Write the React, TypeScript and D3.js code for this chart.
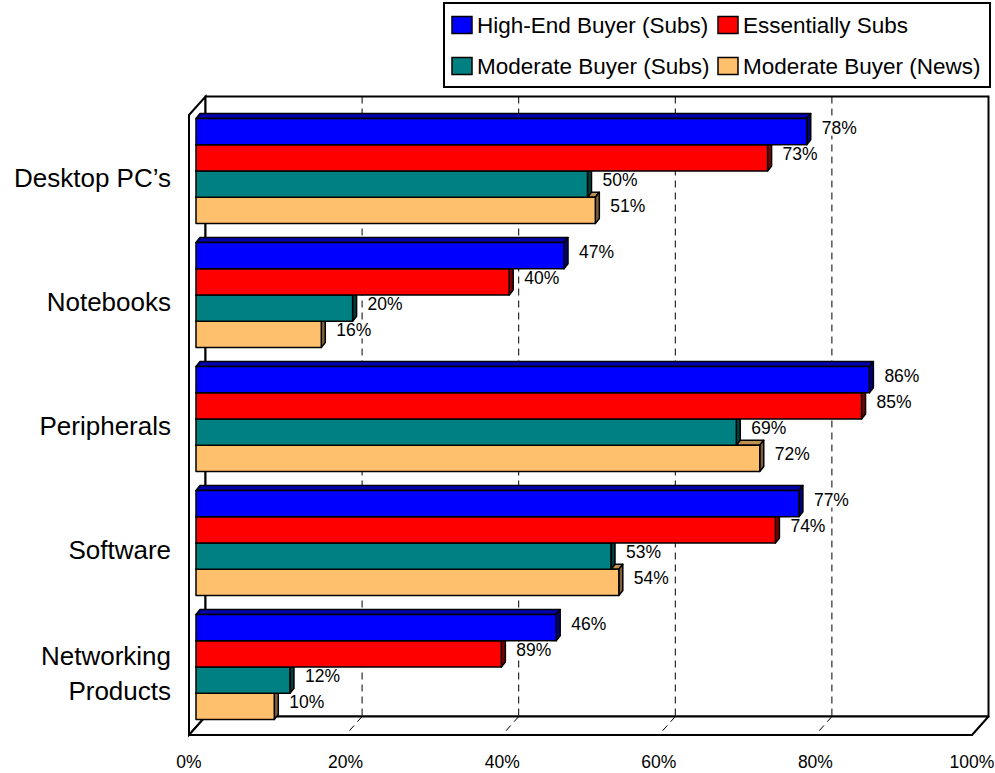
import React from "react";
import * as d3 from "d3";

const categories = ["Desktop PC’s", "Notebooks", "Peripherals", "Software", "Networking Products"];
const seriesNames = ["High-End Buyer (Subs)", "Essentially Subs", "Moderate Buyer (Subs)", "Moderate Buyer (News)"];
const highEnd = [78, 47, 86, 77, 46];
const essentially = [73, 40, 85, 74, 39];
const moderateSubs = [50, 20, 69, 53, 12];
const moderateNews = [51, 16, 72, 54, 10];
const highEndLabels = ["78%", "47%", "86%", "77%", "46%"];
const essentiallyLabels = ["73%", "40%", "85%", "74%", "89%"];
const moderateSubsLabels = ["50%", "20%", "69%", "53%", "12%"];
const moderateNewsLabels = ["51%", "16%", "72%", "54%", "10%"];
const xTicks = [0, 20, 40, 60, 80, 100];

const fills = ["#0000FF", "#FF0000", "#008080", "#FFC06E"];
const sideFills = ["#000080", "#800000", "#004040", "#806037"];
const topFills = ["#0000B0", "#B00000", "#006060", "#C09050"];

const FONT = "'Liberation Sans', Arial, Helvetica, sans-serif";

export default function App() {
  const W = 995, H = 773;
  const values = [highEnd, essentially, moderateSubs, moderateNews];
  const labels = [highEndLabels, essentiallyLabels, moderateSubsLabels, moderateNewsLabels];

  // front plane
  const xFront = d3.scaleLinear().domain([0, 100]).range([189, 972]);
  const yTopFront = 115, yBotFront = 735;
  const DX = 16.5, DY = -18.5; // depth of the box
  const yBand = d3.scaleBand<string>().domain(categories).range([yTopFront, yBotFront]).paddingInner(0.153).paddingOuter(0.0765);
  const barDX = 7, barDY = -6; // bar plane shift
  const ySeries = d3.scaleBand<number>().domain([0, 1, 2, 3]).range([0, yBand.bandwidth()]);
  const d = 4, dd = 5;

  const backL = xFront(0) + DX, backR = xFront(100) + DX;
  const backT = yTopFront + DY, backB = yBotFront + DY;

  const bars: React.ReactNode[] = [];
  const texts: React.ReactNode[] = [];
  categories.forEach((c, ci) => {
    for (let si = 3; si >= 0; si--) {
      const v = values[si][ci];
      const x0 = xFront(0) + barDX;
      const x1 = xFront(v) + barDX;
      const y = (yBand(c) as number) + barDY + (ySeries(si) as number);
      const h = ySeries.bandwidth();
      bars.push(
        <g key={`b-${ci}-${si}`} stroke="#000" strokeWidth={1.5} strokeLinejoin="round">
          <polygon points={`${x0},${y} ${x0 + d},${y - dd} ${x1 + d},${y - dd} ${x1},${y}`} fill={topFills[si]} />
          <polygon points={`${x1},${y} ${x1 + d},${y - dd} ${x1 + d},${y + h - dd} ${x1},${y + h}`} fill={sideFills[si]} />
          <rect x={x0} y={y} width={x1 - x0} height={h} fill={fills[si]} />
        </g>
      );
      const t = labels[si][ci];
      const fs = 17.5;
      const tw = fs * (0.556 * (t.length - 1) + 0.889);
      const tx = x1 + 15;
      const ty = y + h / 2 - 4;
      texts.push(
        <g key={`t-${ci}-${si}`}>
          <rect x={tx - 1} y={ty - 8} width={tw + 2} height={16} fill="#fff" />
          <text x={tx} y={ty} dominantBaseline="central" fontSize={fs} fontFamily={FONT} fill="#000">{t}</text>
        </g>
      );
    }
  });

  const legendItems = seriesNames.map((n, i) => {
    const col = i === 0 || i === 2 ? 0 : 1;
    const row = i < 2 ? 0 : 1;
    const sx = col === 0 ? 452 : 718;
    const cy = row === 0 ? 25 : 66;
    return (
      <g key={n}>
        <rect x={sx} y={cy - 8.5} width={20} height={17} fill={fills[i]} stroke="#000" strokeWidth={1.5} />
        <text x={sx + 25} y={cy} dominantBaseline="central" fontSize={22.5} fontFamily={FONT}>{n}</text>
      </g>
    );
  });

  return (
    <svg width={W} height={H} style={{ position: "absolute", left: 0, top: 0, background: "#fff" }}>
      {/* walls */}
      <polygon points={`${xFront(0)},${yTopFront} ${backL},${backT} ${backL},${backB} ${xFront(0)},${yBotFront}`} fill="#fff" stroke="#000" strokeWidth={2} />
      <rect x={backL} y={backT} width={backR - backL} height={backB - backT} fill="#fff" stroke="#000" strokeWidth={2} />
      <polygon points={`${xFront(0)},${yBotFront} ${backL},${backB} ${backR},${backB} ${xFront(100)},${yBotFront}`} fill="#fff" stroke="#000" strokeWidth={2} strokeLinejoin="round" />
      {/* grid lines */}
      {xTicks.filter(t => t > 0 && t < 100).map(t => (
        <g key={`g-${t}`} stroke="#000" strokeWidth={1} strokeDasharray="7,5">
          <line x1={xFront(t) + DX} y1={backT} x2={xFront(t) + DX} y2={backB} />
          <line x1={xFront(t) + DX} y1={backB} x2={xFront(t)} y2={yBotFront} />
        </g>
      ))}
      {bars}
      {texts}
      {/* axis tick labels */}
      {xTicks.map(t => (
        <text key={`x-${t}`} x={xFront(t)} y={768} textAnchor="middle" fontSize={17.5} fontFamily={FONT}>{t}%</text>
      ))}
      {/* category labels */}
      {categories.map(c => {
        const cy = (yBand(c) as number) + yBand.bandwidth() / 2;
        const words = c === "Networking Products" ? ["Networking", "Products"] : [c];
        return (
          <text key={c} x={171} y={words.length === 1 ? cy + 9.5 : cy - 8} textAnchor="end" fontSize={26} fontFamily={FONT}>
            {words.map((w, i) => (
              <tspan key={w} x={171} dy={i === 0 ? 0 : 35}>{w}</tspan>
            ))}
          </text>
        );
      })}
      {/* legend */}
      <rect x={444} y={3} width={546} height={84} fill="#fff" stroke="#000" strokeWidth={2} />
      {legendItems}
    </svg>
  );
}
